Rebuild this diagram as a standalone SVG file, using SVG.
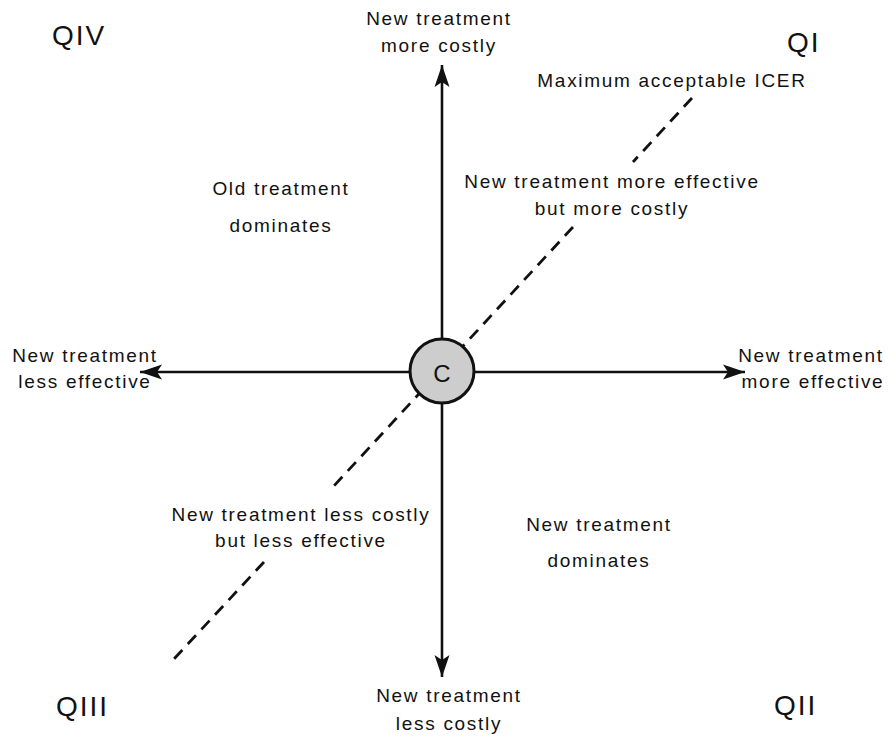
<svg xmlns="http://www.w3.org/2000/svg" width="888" height="736" viewBox="0 0 888 736">
<defs>
<marker id="ah" markerUnits="userSpaceOnUse" markerWidth="26" markerHeight="18" refX="22" refY="9" orient="auto">
<path d="M22,9 L0,1.5 L5,9 L0,16.5 Z" fill="#111"/>
</marker>
<style>
text{font-family:"Liberation Sans",Arial,sans-serif;fill:#111;}
.lb{font-size:19px;letter-spacing:1.7px;text-anchor:middle;}
.q{font-size:28px;letter-spacing:2px;}
.axis{stroke:#111;stroke-width:2.6;fill:none;marker-end:url(#ah);}
.dash{stroke:#111;stroke-width:2.8;stroke-dasharray:12 8;fill:none;}
</style>
</defs>
<rect width="888" height="736" fill="#fff"/>
<g id="connectors">
<line class="dash" x1="692" y1="98" x2="633" y2="162"/>
<line class="dash" x1="573" y1="227" x2="332" y2="488"/>
<line class="dash" x1="264" y1="562" x2="173" y2="660"/>
<line class="axis" x1="442" y1="372" x2="442" y2="65"/>
<line class="axis" x1="442" y1="372" x2="442" y2="677"/>
<line class="axis" x1="442" y1="372" x2="140" y2="372"/>
<line class="axis" x1="442" y1="372" x2="745" y2="372"/>
</g>
<g id="center">
<circle cx="442" cy="371" r="32" fill="#cdcdcd" stroke="#111" stroke-width="3"/>
<text x="442" y="382" font-size="24" text-anchor="middle">C</text>
</g>
<g id="q4"><text class="q" x="52" y="45">QIV</text></g>
<g id="q1"><text class="q" x="787" y="52">QI</text></g>
<g id="q3"><text class="q" x="56" y="716">QIII</text></g>
<g id="q2"><text class="q" x="774" y="715">QII</text></g>
<g id="top-label"><text class="lb" x="439" y="25">New treatment</text><text class="lb" x="439" y="52">more costly</text></g>
<g id="bottom-label"><text class="lb" x="449" y="702">New treatment</text><text class="lb" x="449" y="730">less costly</text></g>
<g id="left-label"><text class="lb" x="85" y="362">New treatment</text><text class="lb" x="85" y="388">less effective</text></g>
<g id="right-label"><text class="lb" x="811" y="362">New treatment</text><text class="lb" x="813" y="388">more effective</text></g>
<g id="icer-label"><text class="lb" x="672" y="87">Maximum acceptable ICER</text></g>
<g id="q1-label"><text class="lb" x="612" y="188">New treatment more effective</text><text class="lb" x="612" y="215">but more costly</text></g>
<g id="q4-label"><text class="lb" x="281" y="195">Old treatment</text><text class="lb" x="281" y="232">dominates</text></g>
<g id="q3-label"><text class="lb" x="301" y="521">New treatment less costly</text><text class="lb" x="301" y="547">but less effective</text></g>
<g id="q2-label"><text class="lb" x="599" y="531">New treatment</text><text class="lb" x="599" y="567">dominates</text></g>
</svg>
